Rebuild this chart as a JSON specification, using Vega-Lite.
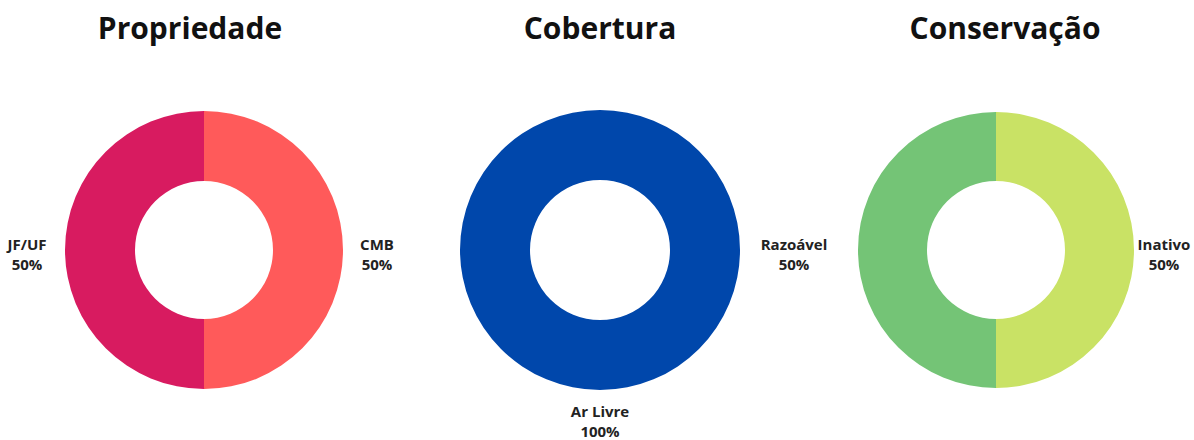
{
  "$schema": "https://vega.github.io/schema/vega-lite/v6.json",
  "background": "white",
  "padding": {"left": 6, "top": 15, "right": 0, "bottom": 0},
  "spacing": 0,
  "bounds": "flush",
  "resolve": {"scale": {"color": "independent"}},
  "config": {
    "view": {"stroke": null},
    "font": "Open Sans",
    "title": {"font": "Open Sans", "fontSize": 30, "fontWeight": "bold", "color": "#111111", "anchor": "middle", "offset": 25},
    "text": {"font": "Open Sans", "fontSize": 15, "fontWeight": "bold", "color": "#222222", "lineBreak": "\n", "lineHeight": 20}
  },
  "datasets": {
    "propriedade": [
      {"categoria": "CMB", "valor": 50, "pct": "50%", "ordem": 1},
      {"categoria": "JF/UF", "valor": 50, "pct": "50%", "ordem": 2}
    ],
    "cobertura": [
      {"categoria": "Ar Livre", "valor": 100, "pct": "100%", "ordem": 1}
    ],
    "conservacao": [
      {"categoria": "Inativo", "valor": 50, "pct": "50%", "ordem": 1},
      {"categoria": "Razoável", "valor": 50, "pct": "50%", "ordem": 2}
    ]
  },
  "hconcat": [
    {
      "title": {"text": "Propriedade", "dx": -14},
      "width": 396,
      "height": 360,
      "data": {"name": "propriedade"},
      "transform": [{"calculate": "datum.categoria + '\\n' + datum.pct", "as": "rotulo"}],
      "layer": [
        {
          "mark": {"type": "arc", "innerRadius": 69, "outerRadius": 139},
          "encoding": {
            "theta": {"field": "valor", "type": "quantitative", "stack": true},
            "order": {"field": "ordem", "type": "quantitative"},
            "color": {"field": "categoria", "type": "nominal", "legend": null,
              "scale": {"domain": ["CMB", "JF/UF"], "range": ["#FF5A5A", "#D81B60"]}}
          }
        },
        {
          "mark": {"type": "text", "radius": 175, "dx": -2, "dy": -5, "align": "center", "baseline": "middle"},
          "encoding": {
            "theta": {"field": "valor", "type": "quantitative", "stack": true},
            "order": {"field": "ordem", "type": "quantitative"},
            "text": {"field": "rotulo", "type": "nominal"}
          }
        }
      ]
    },
    {
      "title": {"text": "Cobertura"},
      "width": 396,
      "height": 360,
      "data": {"name": "cobertura"},
      "transform": [{"calculate": "datum.categoria + '\\n' + datum.pct", "as": "rotulo"}],
      "layer": [
        {
          "mark": {"type": "arc", "innerRadius": 70, "outerRadius": 140},
          "encoding": {
            "theta": {"field": "valor", "type": "quantitative", "stack": true},
            "order": {"field": "ordem", "type": "quantitative"},
            "color": {"field": "categoria", "type": "nominal", "legend": null,
              "scale": {"domain": ["Ar Livre"], "range": ["#0047AB"]}}
          }
        },
        {
          "mark": {"type": "text", "radius": 162, "align": "center", "baseline": "middle"},
          "encoding": {
            "theta": {"field": "valor", "type": "quantitative", "stack": true},
            "order": {"field": "ordem", "type": "quantitative"},
            "text": {"field": "rotulo", "type": "nominal"}
          }
        }
      ]
    },
    {
      "title": {"text": "Conservação", "dx": 9},
      "width": 396,
      "height": 360,
      "data": {"name": "conservacao"},
      "transform": [{"calculate": "datum.categoria + '\\n' + datum.pct", "as": "rotulo"}],
      "layer": [
        {
          "mark": {"type": "arc", "innerRadius": 69, "outerRadius": 138},
          "encoding": {
            "theta": {"field": "valor", "type": "quantitative", "stack": true},
            "order": {"field": "ordem", "type": "quantitative"},
            "color": {"field": "categoria", "type": "nominal", "legend": null,
              "scale": {"domain": ["Inativo", "Razoável"], "range": ["#C9E265", "#74C476"]}}
          }
        },
        {
          "mark": {"type": "text", "radius": 185, "dx": -17, "dy": -5, "align": "center", "baseline": "middle"},
          "encoding": {
            "theta": {"field": "valor", "type": "quantitative", "stack": true},
            "order": {"field": "ordem", "type": "quantitative"},
            "text": {"field": "rotulo", "type": "nominal"}
          }
        }
      ]
    }
  ]
}
